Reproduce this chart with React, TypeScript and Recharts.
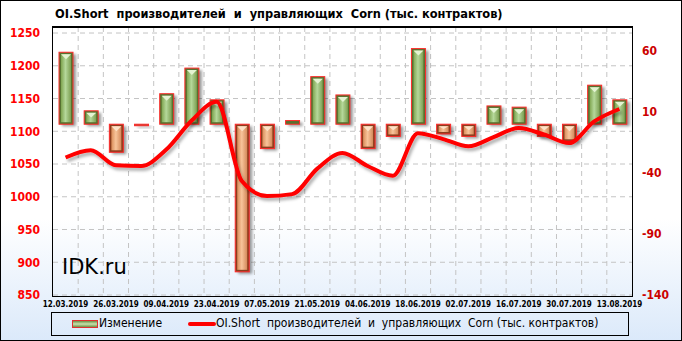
import React from 'react';
import { ComposedChart, Bar, Line, XAxis, YAxis, CartesianGrid } from 'recharts';

const dates = [
  '12.03.2019', '19.03.2019', '26.03.2019', '02.04.2019', '09.04.2019', '16.04.2019',
  '23.04.2019', '30.04.2019', '07.05.2019', '14.05.2019', '21.05.2019', '28.05.2019',
  '04.06.2019', '11.06.2019', '18.06.2019', '25.06.2019', '02.07.2019', '09.07.2019',
  '16.07.2019', '23.07.2019', '30.07.2019', '06.08.2019', '13.08.2019',
];
// weekly change (right axis)
const changes = [59, 11, -23, -1, 25, 46, 20, -121, -20, 3, 39, 24, -20, -10, 62, -8, -10, 15, 14, -10, -14, 32, 20];
// OI short (left axis)
const oiShort = [1060, 1071, 1048, 1047, 1072, 1116, 1145, 1024, 1001, 1004, 1043, 1067, 1047, 1032, 1097, 1088, 1077, 1091, 1105, 1095, 1082, 1115, 1134];

const leftTicks = [850, 900, 950, 1000, 1050, 1100, 1150, 1200, 1250];
const rightTicks = [-140, -90, -40, 10, 60];

const title = 'OI.Short  производителей  и  управляющих  Corn (тыс. контрактов)';

const data = dates.map((d, i) => ({ date: d, change: changes[i], oi: oiShort[i] }));

const FONT = "Tahoma, 'DejaVu Sans Condensed', 'DejaVu Sans', sans-serif";

const BevelBar = (props: any) => {
  const { x, y, width, height, payload } = props;
  if (x == null || y == null) return null;
  const top = height < 0 ? y + height : y;
  const h = Math.max(Math.abs(height), 1.5);
  const up = payload.change >= 0;
  const big = h > 5;
  const ins = big ? 2 : 0;
  const tri = Math.min(width / 2 - ins, (h - 2 * ins) / 2);
  return (
    <g>
      <rect x={x + 3} y={top + 2} width={width} height={h} fill="#000" opacity={0.4} filter="url(#barBlur)" />
      <rect x={x} y={top} width={width} height={h} fill={up ? '#56722f' : '#8c3d1d'} stroke="#ff2a2a" strokeWidth={1} />
      {big && (
        <rect x={x + ins} y={top + ins} width={width - 2 * ins} height={h - 2 * ins} fill={up ? 'url(#bodyG)' : 'url(#bodyO)'} />
      )}
      {big && (
        <polygon
          points={`${x + ins},${top + ins} ${x + width - ins},${top + ins} ${x + width / 2},${top + ins + tri}`}
          fill={up ? '#e4f3d2' : '#fde2c8'}
        />
      )}
    </g>
  );
};

const gridX = ({ offset }: any) => {
  const left = offset ? offset.left : 53;
  const w = offset ? offset.width : 579;
  const n = dates.length;
  return Array.from({ length: n - 1 }, (_, k) => left + ((k + 1) * w) / n);
};

export default function App() {
  return (
    <div style={{ position: 'relative', width: 682, height: 341, fontFamily: FONT, overflow: 'hidden' }}>
      <style>{'body{margin:0}'}</style>
      <div
        style={{
          position: 'absolute', inset: 0,
          background: 'linear-gradient(to bottom, #ffffff 0%, #ffffff 64%, #dbe9fa 100%)',
        }}
      />
      <div
        style={{
          position: 'absolute', left: 55, top: 6, fontSize: 12.7, fontWeight: 'bold',
          whiteSpace: 'pre', lineHeight: '16px', color: '#000',
        }}
      >
        {title}
      </div>
      <div style={{ position: 'absolute', left: 0, top: 0 }}>
        <ComposedChart width={682} height={341} data={data} margin={{ top: 27, right: 0, bottom: 0, left: 0 }}>
          <defs>
            <linearGradient id="bodyG" x1="0" y1="0" x2="1" y2="0">
              <stop offset="0%" stopColor="#7fa550" />
              <stop offset="45%" stopColor="#b5d89a" />
              <stop offset="100%" stopColor="#7c9f52" />
            </linearGradient>
            <linearGradient id="bodyO" x1="0" y1="0" x2="1" y2="0">
              <stop offset="0%" stopColor="#d98d5a" />
              <stop offset="45%" stopColor="#f8c49a" />
              <stop offset="100%" stopColor="#d4895a" />
            </linearGradient>
            <filter id="barBlur" x="-50%" y="-50%" width="200%" height="200%">
              <feGaussianBlur stdDeviation="1.8" />
            </filter>
            <filter id="lineShadow" x="-10%" y="-20%" width="120%" height="140%">
              <feDropShadow dx="2" dy="3" stdDeviation="1.8" floodColor="#000" floodOpacity="0.3" />
            </filter>
          </defs>
          <CartesianGrid
            yAxisId="left"
            stroke="#c4c4c4"
            strokeDasharray="5 4"
            verticalCoordinatesGenerator={gridX}
          />
          <XAxis
            dataKey="date"
            interval={1}
            height={46}
            tickLine={false}
            axisLine={false}
            tickSize={0}
            tickMargin={6}
            tick={{ fontSize: 8, fontWeight: 'bold', fill: '#000', fontFamily: FONT }}
          />
          <YAxis
            yAxisId="left"
            width={53}
            domain={[850, 1259.2]}
            ticks={leftTicks}
            allowDataOverflow
            tickLine={false}
            axisLine={false}
            tickSize={0}
            tickMargin={13}
            tick={{ fontSize: 12, fontWeight: 'bold', fill: '#ff0000', fontFamily: FONT }}
          />
          <YAxis
            yAxisId="right"
            orientation="right"
            width={50}
            domain={[-140, 79.7]}
            ticks={rightTicks}
            allowDataOverflow
            tickLine={false}
            axisLine={false}
            tickSize={0}
            tickMargin={10}
            tick={{ fontSize: 12, fontWeight: 'bold', fill: '#cc0000', fontFamily: FONT }}
          />
          <Bar
            yAxisId="right"
            dataKey="change"
            barSize={14}
            shape={(p: any) => <BevelBar {...p} />}
            isAnimationActive={false}
          />
          <Line
            yAxisId="left"
            dataKey="oi"
            type="monotone"
            stroke="#ff0000"
            strokeWidth={4}
            dot={false}
            activeDot={false}
            filter="url(#lineShadow)"
            isAnimationActive={false}
          />
        </ComposedChart>
      </div>
      <div
        style={{
          position: 'absolute', left: 62, top: 255, fontSize: 21, color: '#000',
          fontFamily: "'DejaVu Sans', sans-serif",
        }}
      >
        IDK.ru
      </div>
      {/* plot frame */}
      <div
        style={{
          position: 'absolute', left: 52, top: 26, width: 579, height: 268,
          border: '1px solid #000', borderTopWidth: 2, boxSizing: 'content-box', pointerEvents: 'none',
        }}
      />
      {/* legend */}
      <div
        style={{
          position: 'absolute', left: 51, top: 312, width: 576, height: 22,
          border: '1px solid #000', fontSize: 12, color: '#000',
        }}
      >
        <div
          style={{
            position: 'absolute', left: 20, top: 7, width: 24, height: 6,
            border: '1px solid #e03030',
            background: 'linear-gradient(to bottom, #6d8f45, #c8e2ad 50%, #6d8f45)',
          }}
        />
        <div style={{ position: 'absolute', left: 47, top: 3, lineHeight: '15px' }}>Изменение</div>
        <div
          style={{
            position: 'absolute', left: 136, top: 9, width: 28, height: 4,
            background: '#ff0000', borderRadius: 2,
          }}
        />
        <div style={{ position: 'absolute', left: 164, top: 3, lineHeight: '15px', whiteSpace: 'pre' }}>{title}</div>
      </div>
      {/* outer frame */}
      <div style={{ position: 'absolute', inset: 0, border: '1px solid #000', pointerEvents: 'none' }} />
    </div>
  );
}
